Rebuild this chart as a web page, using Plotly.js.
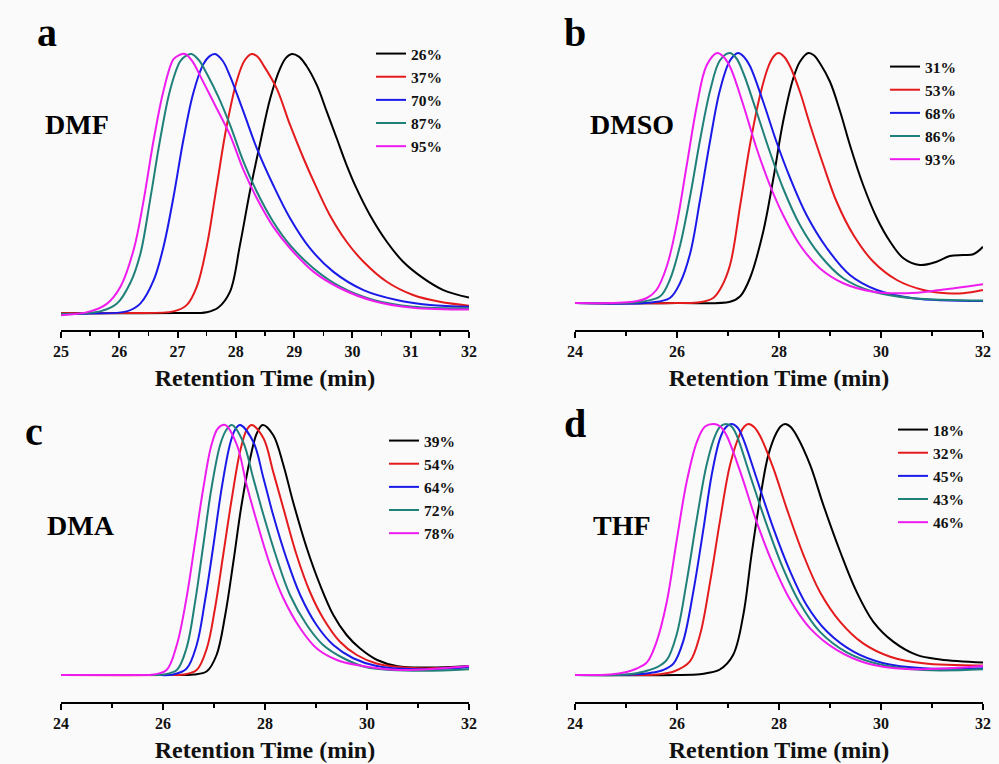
<!DOCTYPE html>
<html>
<head>
<meta charset="utf-8">
<script src="https://cdn.plot.ly/plotly-3.0.1.min.js"></script>
<style>html,body{margin:0;padding:0;background:#fafafa}#chart{width:999px;height:764px}</style>
</head>
<body>
<div id="chart"></div>
<script>
// ---------- Data (retention time in min, normalized detector signal) ----------
// Panel a: DMF
const dmfLabels = ['26%', '37%', '70%', '87%', '95%'];
const dmf26x = [25, 26, 27, 27.5, 27.7, 27.9, 28.07, 28.24, 28.41, 28.59, 28.76, 28.86, 28.96, 29.08, 29.21, 29.39, 29.56, 29.73, 29.9, 30.07, 30.3, 30.59, 30.87, 31.22, 31.56, 32];
const dmf26y = [0.003, 0.003, 0.004, 0.007, 0.025, 0.086, 0.265, 0.47, 0.65, 0.83, 0.945, 0.985, 1.0, 0.99, 0.955, 0.88, 0.778, 0.676, 0.573, 0.483, 0.381, 0.278, 0.201, 0.137, 0.092, 0.063];
const dmf37x = [25, 26, 26.93, 27.16, 27.33, 27.5, 27.67, 27.84, 28.02, 28.15, 28.27, 28.37, 28.47, 28.7, 28.93, 29.16, 29.39, 29.61, 29.9, 30.19, 30.59, 31.04, 31.5, 32];
const dmf37y = [0.003, 0.004, 0.01, 0.035, 0.105, 0.26, 0.49, 0.72, 0.9, 0.975, 1.0, 0.99, 0.958, 0.868, 0.727, 0.599, 0.483, 0.381, 0.278, 0.201, 0.124, 0.073, 0.047, 0.032];
const dmf70x = [25, 25.5, 26.13, 26.36, 26.59, 26.76, 26.93, 27.1, 27.27, 27.44, 27.54, 27.64, 27.77, 27.9, 28.13, 28.36, 28.64, 28.93, 29.27, 29.67, 30.19, 30.76, 31.33, 32];
const dmf70y = [0, 0.002, 0.01, 0.04, 0.13, 0.26, 0.45, 0.67, 0.85, 0.96, 0.99, 1.0, 0.975, 0.915, 0.778, 0.637, 0.496, 0.368, 0.253, 0.163, 0.092, 0.054, 0.035, 0.028];
const dmf87x = [25, 25.67, 25.96, 26.19, 26.36, 26.53, 26.7, 26.87, 27.04, 27.14, 27.24, 27.37, 27.5, 27.7, 27.9, 28.13, 28.36, 28.64, 28.93, 29.33, 29.79, 30.36, 31.04, 32];
const dmf87y = [0, 0.01, 0.04, 0.12, 0.23, 0.44, 0.67, 0.86, 0.97, 0.993, 1.0, 0.975, 0.925, 0.835, 0.727, 0.586, 0.47, 0.355, 0.265, 0.176, 0.105, 0.054, 0.028, 0.022];
const dmf95x = [25, 25.5, 25.79, 26.02, 26.25, 26.42, 26.59, 26.76, 26.93, 27.03, 27.13, 27.26, 27.39, 27.65, 27.9, 28.13, 28.36, 28.64, 28.93, 29.33, 29.79, 30.36, 31.04, 32];
const dmf95y = [-0.005, 0.01, 0.04, 0.105, 0.25, 0.44, 0.67, 0.86, 0.98, 0.996, 1.0, 0.97, 0.915, 0.8, 0.688, 0.554, 0.445, 0.336, 0.253, 0.163, 0.099, 0.05, 0.024, 0.017];

// Panel b: DMSO
const dmsoLabels = ['31%', '53%', '68%', '86%', '93%'];
const dmso31x = [24, 26, 27.04, 27.24, 27.43, 27.69, 27.89, 28.08, 28.28, 28.41, 28.575, 28.69, 28.8, 29.0, 29.2, 29.39, 29.65, 29.92, 30.18, 30.44, 30.76, 31.09, 31.35, 31.61, 31.81, 32];
const dmso31y = [0, 0, 0.005, 0.027, 0.099, 0.285, 0.499, 0.725, 0.899, 0.965, 1.0, 0.99, 0.96, 0.885, 0.765, 0.632, 0.472, 0.339, 0.245, 0.179, 0.152, 0.165, 0.188, 0.192, 0.195, 0.225];
const dmso53x = [24, 26, 26.45, 26.71, 26.86, 27.04, 27.24, 27.43, 27.63, 27.79, 27.89, 27.99, 28.1, 28.22, 28.41, 28.61, 28.87, 29.13, 29.46, 29.85, 30.31, 30.83, 31.29, 31.61, 32];
const dmso53y = [0, 0, 0.003, 0.02, 0.06, 0.152, 0.392, 0.632, 0.832, 0.945, 0.985, 1.0, 0.985, 0.945, 0.845, 0.712, 0.552, 0.405, 0.272, 0.165, 0.092, 0.052, 0.039, 0.039, 0.052];
const dmso68x = [24, 25.5, 25.86, 26.06, 26.26, 26.45, 26.65, 26.84, 27.04, 27.2, 27.31, 27.43, 27.69, 27.95, 28.22, 28.54, 28.94, 29.39, 29.92, 30.63, 32];
const dmso68y = [0, 0.002, 0.02, 0.08, 0.2, 0.41, 0.65, 0.85, 0.97, 1.0, 0.985, 0.948, 0.805, 0.645, 0.499, 0.352, 0.219, 0.112, 0.052, 0.019, 0.008];
const dmso86x = [24, 25.3, 25.67, 25.86, 26.06, 26.26, 26.45, 26.65, 26.84, 27.03, 27.16, 27.3, 27.56, 27.82, 28.08, 28.41, 28.8, 29.26, 29.85, 30.63, 32];
const dmso86y = [0, 0.005, 0.027, 0.093, 0.23, 0.43, 0.65, 0.85, 0.97, 1.0, 0.98, 0.92, 0.765, 0.605, 0.459, 0.312, 0.192, 0.099, 0.045, 0.019, 0.01];
const dmso93x = [24, 25.14, 25.41, 25.6, 25.8, 25.99, 26.19, 26.39, 26.58, 26.79, 26.91, 27.04, 27.3, 27.56, 27.82, 28.08, 28.41, 28.8, 29.26, 29.85, 30.5, 31.16, 32];
const dmso93y = [0, 0.005, 0.02, 0.053, 0.147, 0.31, 0.55, 0.79, 0.95, 1.0, 0.985, 0.945, 0.792, 0.619, 0.472, 0.352, 0.232, 0.139, 0.079, 0.045, 0.039, 0.052, 0.075];

// Panel c: DMA
const dmaLabels = ['39%', '54%', '64%', '72%', '78%'];
const dma39x = [24, 26, 26.6, 26.86, 27.05, 27.22, 27.38, 27.54, 27.71, 27.84, 27.955, 28.16, 28.36, 28.55, 28.82, 29.08, 29.34, 29.6, 29.86, 30.2, 30.6, 31.2, 32];
const dma39y = [0, 0, 0.002, 0.015, 0.08, 0.24, 0.453, 0.68, 0.867, 0.967, 1.0, 0.96, 0.84, 0.693, 0.507, 0.36, 0.24, 0.16, 0.107, 0.06, 0.035, 0.03, 0.036];
const dma54x = [24, 26, 26.4, 26.66, 26.86, 27.02, 27.18, 27.35, 27.51, 27.64, 27.74, 27.97, 28.16, 28.36, 28.62, 28.88, 29.14, 29.47, 29.8, 30.2, 30.97, 32];
const dma54y = [0, 0, 0.002, 0.02, 0.107, 0.267, 0.48, 0.707, 0.893, 0.98, 1.0, 0.947, 0.813, 0.667, 0.48, 0.333, 0.227, 0.133, 0.08, 0.045, 0.027, 0.033];
const dma64x = [24, 25.8, 26.2, 26.46, 26.66, 26.82, 26.99, 27.15, 27.31, 27.41, 27.51, 27.77, 27.97, 28.16, 28.42, 28.69, 29.01, 29.34, 29.73, 30.19, 30.97, 32];
const dma64y = [0, 0, 0.002, 0.025, 0.12, 0.293, 0.52, 0.747, 0.92, 0.98, 1.0, 0.933, 0.787, 0.64, 0.467, 0.32, 0.2, 0.12, 0.067, 0.036, 0.023, 0.031];
const dma72x = [24, 25.6, 26.0, 26.27, 26.46, 26.63, 26.79, 26.95, 27.12, 27.24, 27.35, 27.57, 27.77, 27.97, 28.23, 28.49, 28.82, 29.14, 29.54, 29.99, 30.97, 32];
const dma72y = [0, 0, 0.002, 0.02, 0.107, 0.293, 0.52, 0.747, 0.92, 0.98, 1.0, 0.933, 0.787, 0.64, 0.467, 0.32, 0.2, 0.12, 0.067, 0.031, 0.017, 0.023];
const dma78x = [24, 25.4, 25.81, 26.07, 26.27, 26.46, 26.63, 26.79, 26.95, 27.08, 27.22, 27.45, 27.64, 27.84, 28.1, 28.36, 28.69, 29.01, 29.41, 29.8, 30.64, 32];
const dma78y = [0, 0, 0.002, 0.02, 0.12, 0.307, 0.533, 0.747, 0.92, 0.987, 1.0, 0.92, 0.76, 0.613, 0.44, 0.307, 0.187, 0.107, 0.06, 0.04, 0.02, 0.036];

// Panel d: THF
const thfLabels = ['18%', '32%', '45%', '43%', '46%'];
const thf18x = [24, 26, 26.45, 26.6, 26.84, 27.1, 27.3, 27.46, 27.63, 27.79, 27.95, 28.03, 28.12, 28.23, 28.35, 28.61, 28.87, 29.2, 29.52, 29.85, 30.24, 30.7, 31.16, 32];
const thf18y = [0, 0, 0.003, 0.008, 0.022, 0.08, 0.239, 0.478, 0.704, 0.876, 0.965, 0.99, 1.0, 0.988, 0.952, 0.837, 0.677, 0.491, 0.332, 0.212, 0.133, 0.08, 0.062, 0.05];
const thf32x = [24, 25, 25.6, 25.95, 26.25, 26.45, 26.65, 26.84, 27.04, 27.24, 27.32, 27.4, 27.51, 27.63, 27.89, 28.15, 28.48, 28.8, 29.2, 29.65, 30.18, 30.83, 32];
const thf32y = [0, 0, 0.002, 0.015, 0.053, 0.159, 0.372, 0.611, 0.837, 0.963, 0.99, 1.0, 0.988, 0.952, 0.823, 0.664, 0.478, 0.332, 0.212, 0.126, 0.073, 0.047, 0.038];
const thf45x = [24, 25.14, 25.47, 25.73, 25.93, 26.12, 26.32, 26.52, 26.68, 26.84, 26.95, 27.07, 27.19, 27.3, 27.56, 27.89, 28.22, 28.54, 28.94, 29.46, 30.05, 30.83, 32];
const thf45y = [0, 0.002, 0.008, 0.02, 0.045, 0.133, 0.332, 0.584, 0.797, 0.94, 0.985, 1.0, 0.985, 0.94, 0.784, 0.584, 0.412, 0.279, 0.173, 0.093, 0.047, 0.027, 0.027];
const thf43x = [24, 25.01, 25.34, 25.6, 25.8, 25.99, 26.19, 26.39, 26.58, 26.75, 26.85, 26.96, 27.07, 27.17, 27.43, 27.76, 28.08, 28.41, 28.8, 29.33, 29.92, 30.83, 32];
const thf43y = [0, 0.002, 0.013, 0.03, 0.06, 0.159, 0.372, 0.624, 0.837, 0.955, 0.99, 1.0, 0.99, 0.955, 0.797, 0.598, 0.425, 0.286, 0.173, 0.09, 0.045, 0.02, 0.023];
const thf46x = [24, 24.69, 25.01, 25.2, 25.41, 25.6, 25.8, 25.99, 26.19, 26.39, 26.55, 26.73, 26.85, 26.97, 27.24, 27.56, 27.89, 28.22, 28.61, 29.13, 29.72, 30.5, 32];
const thf46y = [0, 0.002, 0.012, 0.025, 0.05, 0.133, 0.292, 0.531, 0.77, 0.929, 0.99, 1.0, 0.99, 0.955, 0.81, 0.611, 0.438, 0.299, 0.186, 0.1, 0.047, 0.024, 0.036];

const colors = ['#000000', '#e41b1d', '#1a1ae8', '#20807a', '#ee1cee'];
const FONT = 'Liberation Serif, Times New Roman, serif';

function mk(x, y, name, ci, ax, lg) {
  return {
    x: x, y: y, name: '<b>' + name + '</b>', type: 'scatter', mode: 'lines',
    line: {color: colors[ci], width: 2, shape: 'spline', smoothing: 1},
    xaxis: 'x' + ax, yaxis: 'y' + ax, legend: lg, hoverinfo: 'skip'
  };
}

const data = [
  mk(dmf26x, dmf26y, dmfLabels[0], 0, '', 'legend'),
  mk(dmf37x, dmf37y, dmfLabels[1], 1, '', 'legend'),
  mk(dmf70x, dmf70y, dmfLabels[2], 2, '', 'legend'),
  mk(dmf87x, dmf87y, dmfLabels[3], 3, '', 'legend'),
  mk(dmf95x, dmf95y, dmfLabels[4], 4, '', 'legend'),
  mk(dmso31x, dmso31y, dmsoLabels[0], 0, '2', 'legend2'),
  mk(dmso53x, dmso53y, dmsoLabels[1], 1, '2', 'legend2'),
  mk(dmso68x, dmso68y, dmsoLabels[2], 2, '2', 'legend2'),
  mk(dmso86x, dmso86y, dmsoLabels[3], 3, '2', 'legend2'),
  mk(dmso93x, dmso93y, dmsoLabels[4], 4, '2', 'legend2'),
  mk(dma39x, dma39y, dmaLabels[0], 0, '3', 'legend3'),
  mk(dma54x, dma54y, dmaLabels[1], 1, '3', 'legend3'),
  mk(dma64x, dma64y, dmaLabels[2], 2, '3', 'legend3'),
  mk(dma72x, dma72y, dmaLabels[3], 3, '3', 'legend3'),
  mk(dma78x, dma78y, dmaLabels[4], 4, '3', 'legend3'),
  mk(thf18x, thf18y, thfLabels[0], 0, '4', 'legend4'),
  mk(thf32x, thf32y, thfLabels[1], 1, '4', 'legend4'),
  mk(thf45x, thf45y, thfLabels[2], 2, '4', 'legend4'),
  mk(thf43x, thf43y, thfLabels[3], 3, '4', 'legend4'),
  mk(thf46x, thf46y, thfLabels[4], 4, '4', 'legend4')
];

const W = 999, H = 764;
const px = v => v / W, py = v => 1 - v / H;

function xax(domain, range, dtick, minorTick, anchor) {
  return {
    domain: domain, range: range, anchor: anchor,
    showline: true, linecolor: '#000', linewidth: 2, mirror: false,
    ticks: 'outside', ticklen: 6, tickwidth: 2, tickcolor: '#000', dtick: dtick, tick0: range[0],
    minor: {ticks: 'outside', ticklen: 4, tickwidth: 1.5, tickcolor: '#000', dtick: minorTick},
    showgrid: false, zeroline: false,
    tickfont: {family: FONT, size: 16, color: '#111', weight: 'bold'},
    title: {text: 'Retention Time (min)', font: {family: FONT, size: 24, color: '#111', weight: 'bold'}, standoff: 10},
    fixedrange: true
  };
}
function yax(domain, range, anchor) {
  return {domain: domain, range: range, anchor: anchor, visible: false, fixedrange: true};
}
function leg(x, ytop) {
  return {x: px(x), y: py(ytop), xanchor: 'left', yanchor: 'top', bgcolor: 'rgba(0,0,0,0)',
    borderwidth: 0, font: {family: FONT, size: 15.5, color: '#111'}, tracegroupgap: 0, itemwidth: 30};
}
function ann(text, x, y, size) {
  return {text: '<b>' + text + '</b>', x: px(x), y: py(y), xref: 'paper', yref: 'paper',
    xanchor: 'center', yanchor: 'middle', showarrow: false, font: {family: FONT, size: size, color: '#000'}};
}

const layout = {
  width: W, height: H,
  margin: {l: 0, r: 0, t: 0, b: 0},
  paper_bgcolor: '#fafafa', plot_bgcolor: 'rgba(0,0,0,0)',
  showlegend: true,
  xaxis: xax([px(61), px(469)], [25, 32], 1, 0.5, 'y'),
  yaxis: yax([py(330), py(40)], [-16 / 260, 274 / 260], 'x'),
  xaxis2: xax([px(575), px(983)], [24, 32], 2, 1, 'y2'),
  yaxis2: yax([py(330), py(40)], [-27 / 250, 263 / 250], 'x2'),
  xaxis3: xax([px(61), px(469)], [24, 32], 2, 1, 'y3'),
  yaxis3: yax([py(702), py(412)], [-27 / 250, 263 / 250], 'x3'),
  xaxis4: xax([px(575), px(983)], [24, 32], 2, 1, 'y4'),
  yaxis4: yax([py(702), py(412)], [-27 / 251, 263 / 251], 'x4'),
  legend: leg(371, 37),
  legend2: leg(885, 50),
  legend3: leg(384, 424),
  legend4: leg(893, 413),
  annotations: [
    ann('a', 47, 33, 40), ann('b', 575, 33, 40), ann('c', 34, 431, 40), ann('d', 575, 423, 40),
    ann('DMF', 77, 124, 28), ann('DMSO', 632, 124, 28), ann('DMA', 81, 525, 28), ann('THF', 622, 525, 28)
  ]
};

Plotly.newPlot('chart', data, layout, {displayModeBar: false, staticPlot: true});
</script>
</body>
</html>
